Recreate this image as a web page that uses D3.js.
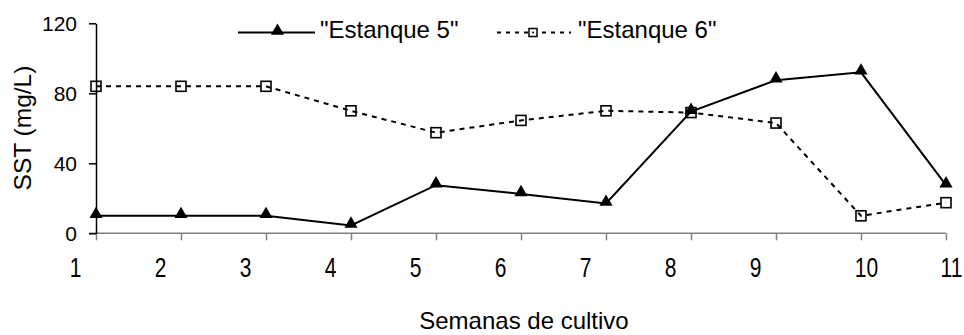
<!DOCTYPE html>
<html><head><meta charset="utf-8">
<script src="https://cdn.jsdelivr.net/npm/d3@7"></script>
<style>
html,body{margin:0;padding:0;background:#fff;}
svg{display:block;font-family:"Liberation Sans",Arial,sans-serif;}
</style></head>
<body>
<svg id="c" width="964" height="335"></svg>
<script>
const weeks = [1,2,3,4,5,6,7,8,9,10,11];
const estanque5 = [10,10,10,4.5,27.5,22.5,17,69.5,87.5,92,27.5];
const estanque6 = [84,84,84,70,57.5,64.5,70,69,63,10,17.5];
const yTicks = [0,40,80,120];
const seriesNames = ['"Estanque 5"','"Estanque 6"'];
const xTitle = "Semanas de cultivo";
const yTitle = "SST (mg/L)";

const svg = d3.select("#c");
const x = d3.scaleLinear().domain([1,11]).range([96,946]);
const y = d3.scaleLinear().domain([0,120]).range([233.3,23.3]);

// X axis
const gx = svg.append("g").attr("transform",`translate(0,${y(0)})`)
  .call(d3.axisBottom(x).tickValues(weeks).tickSize(7).tickSizeOuter(0).tickFormat(d=>d));
gx.select(".domain").attr("stroke","#808080").attr("stroke-width",1.5).attr("d",`M${x(1)-7},0H${x(11)}`);
gx.selectAll(".tick line").attr("stroke","#808080").attr("stroke-width",1.5);
gx.selectAll(".tick text")
  .attr("y",null).attr("dy",null)
  .attr("fill","#000")
  .style("font-size","21px")
  .attr("transform",d=>`translate(${d<=9?-21:5},43.5) scale(1,1.33)`);

// Y axis
const gy = svg.append("g").attr("transform",`translate(${x(1)},0)`)
  .call(d3.axisLeft(y).tickValues(yTicks).tickSize(7).tickSizeOuter(0).tickPadding(12));
gy.select(".domain").attr("stroke","#000").attr("stroke-width",1.5);
gy.selectAll(".tick line").attr("stroke","#000").attr("stroke-width",1.5);
gy.selectAll(".tick text").attr("fill","#000").style("font-size","21px");

// Lines
const line = d3.line().x((d,i)=>x(weeks[i])).y(d=>y(d));
svg.append("path").datum(estanque6).attr("d",line)
  .attr("fill","none").attr("stroke","#000").attr("stroke-width",2).attr("stroke-dasharray","5,5");
svg.append("path").datum(estanque5).attr("d",line)
  .attr("fill","none").attr("stroke","#000").attr("stroke-width",2);

const tri = d3.symbol().type(d3.symbolTriangle).size(75);
svg.append("g").selectAll("path").data(estanque5).join("path")
  .attr("d",tri).attr("fill","#000")
  .attr("transform",(d,i)=>`translate(${x(weeks[i])},${y(d)-1.5})`);
svg.append("g").selectAll("rect").data(estanque6).join("rect")
  .attr("x",(d,i)=>x(weeks[i])-5).attr("y",d=>y(d)-5)
  .attr("width",10).attr("height",10)
  .attr("fill","none").attr("stroke","#000").attr("stroke-width",1.6);

// Legend
const leg = svg.append("g");
leg.append("line").attr("x1",238).attr("x2",315).attr("y1",32.5).attr("y2",32.5).attr("stroke","#000").attr("stroke-width",2);
leg.append("path").attr("d",tri).attr("fill","#000").attr("transform","translate(277.5,31)");
leg.append("text").attr("x",320).attr("y",37.5).style("font-size","24px").text(seriesNames[0]);
leg.append("line").attr("x1",497).attr("x2",571).attr("y1",32.5).attr("y2",32.5).attr("stroke","#000").attr("stroke-width",2).attr("stroke-dasharray","4,5");
leg.append("rect").attr("x",529).attr("y",28.5).attr("width",8).attr("height",8).attr("fill","#fff").attr("stroke","#000").attr("stroke-width",1.5);
leg.append("circle").attr("cx",533).attr("cy",32.5).attr("r",1).attr("fill","#000");
leg.append("text").attr("x",578).attr("y",37.5).style("font-size","24px").text(seriesNames[1]);

// Titles
svg.append("text").attr("x",524).attr("y",329).attr("text-anchor","middle")
  .style("font-size","24px").text(xTitle);
svg.append("text").attr("transform","translate(31,128) rotate(-90)").attr("text-anchor","middle")
  .style("font-size","24.5px").text(yTitle);
</script>
</body></html>
